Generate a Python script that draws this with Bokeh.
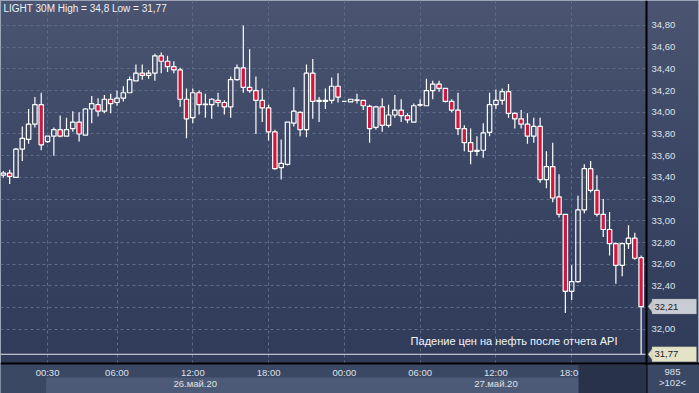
from bokeh.plotting import figure
from bokeh.models import (ColumnDataSource, LinearAxis, FixedTicker, Range1d, Label,
                          BoxAnnotation, PolyAnnotation, Grid)
from bokeh.embed import file_html
from bokeh.resources import INLINE

# ---------------- data (LIGHT 30M, 25-27 May 2020) ----------------
opens = [33.42, 33.44, 33.40, 33.66, 33.75, 33.89, 34.07, 33.73, 33.78, 33.84,
         33.78, 33.85, 33.91, 33.79, 34.03, 34.07, 34.01, 34.12, 34.09, 34.13,
         34.18, 34.29, 34.36, 34.34, 34.36, 34.52, 34.47, 34.42, 34.39, 34.12,
         33.95, 34.18, 34.07, 34.07, 34.11, 34.09, 34.05, 34.30, 34.41, 34.23,
         34.20, 34.11, 34.04, 33.82, 33.49, 33.52, 33.90, 34.00, 33.84, 34.36,
         34.10, 34.10, 34.11, 34.24, 34.10, 34.095, 34.11, 34.11, 34.055, 33.86,
         34.05, 33.88, 33.975, 34.02, 33.97, 33.91, 34.065, 34.06, 34.20, 34.26,
         34.22, 34.10, 34.02, 33.85, 33.72, 33.64, 33.65, 33.815, 34.07, 34.11,
         34.19, 33.99, 33.94, 33.89, 33.78, 33.87, 33.38, 33.50, 33.22, 33.06,
         32.35, 32.44, 33.10, 33.48, 33.28, 33.06, 32.92, 32.79, 32.59, 32.79,
         32.84, 32.66]
highs = [33.46, 33.47, 33.67, 33.87, 34.03, 34.14, 34.18, 33.78, 33.86, 33.97,
         33.95, 34.01, 34.00, 34.04, 34.15, 34.13, 34.16, 34.17, 34.20, 34.24,
         34.33, 34.44, 34.44, 34.39, 34.54, 34.55, 34.52, 34.47, 34.41, 34.22,
         34.22, 34.20, 34.17, 34.13, 34.18, 34.11, 34.33, 34.44, 34.80, 34.58,
         34.33, 34.22, 34.07, 33.84, 33.75, 33.91, 34.23, 34.01, 34.44, 34.49,
         34.14, 34.22, 34.32, 34.36, 34.10, 34.12, 34.17, 34.11, 34.07, 34.06,
         34.13, 34.07, 34.16, 34.12, 33.99, 34.08, 34.12, 34.31, 34.29, 34.29,
         34.22, 34.12, 34.18, 33.88, 33.85, 33.78, 33.90, 34.18, 34.21, 34.22,
         34.26, 34.00, 34.02, 33.99, 33.95, 33.95, 33.64, 33.72, 33.43, 33.06,
         32.59, 33.23, 33.52, 33.55, 33.42, 33.20, 33.08, 32.80, 32.80, 32.96,
         32.89, 32.68]
lows = [33.40, 33.34, 33.40, 33.55, 33.71, 33.86, 33.65, 33.72, 33.60, 33.77,
        33.78, 33.82, 33.73, 33.79, 33.90, 33.96, 33.99, 33.99, 34.06, 34.10,
        34.18, 34.29, 34.30, 34.31, 34.29, 34.36, 34.37, 34.36, 34.05, 33.76,
        33.90, 33.98, 33.95, 33.94, 34.05, 33.98, 33.95, 34.29, 34.18, 34.18,
        33.80, 33.91, 33.74, 33.47, 33.38, 33.51, 33.87, 33.78, 33.77, 33.94,
        33.91, 34.03, 34.08, 34.09, 34.10, 34.095, 34.08, 34.02, 33.72, 33.84,
        33.82, 33.86, 33.95, 33.91, 33.90, 33.91, 34.05, 34.06, 34.12, 34.19,
        34.09, 34.00, 33.79, 33.64, 33.52, 33.60, 33.58, 33.78, 34.03, 34.07,
        33.95, 33.85, 33.85, 33.71, 33.72, 33.35, 33.30, 33.17, 33.03, 32.15,
        32.27, 32.43, 33.07, 33.26, 33.04, 32.85, 32.68, 32.42, 32.49, 32.74,
        32.64, 31.77]
closes = [33.44, 33.41, 33.66, 33.76, 33.89, 34.07, 33.70, 33.78, 33.84, 33.78,
          33.84, 33.91, 33.80, 34.03, 34.08, 34.01, 34.12, 34.08, 34.13, 34.18,
          34.30, 34.36, 34.34, 34.36, 34.52, 34.47, 34.42, 34.39, 34.12, 33.94,
          34.18, 34.07, 34.075, 34.12, 34.09, 34.05, 34.30, 34.41, 34.23, 34.20,
          34.11, 34.04, 33.82, 33.48, 33.53, 33.91, 34.01, 33.84, 34.36, 34.10,
          34.11, 34.11, 34.24, 34.14, 34.10, 34.12, 34.115, 34.06, 33.85, 34.05,
          33.88, 33.975, 34.02, 33.97, 33.93, 34.06, 34.07, 34.20, 34.26, 34.22,
          34.10, 34.02, 33.85, 33.72, 33.64, 33.65, 33.81, 34.07, 34.11, 34.19,
          33.99, 33.94, 33.89, 33.78, 33.87, 33.38, 33.50, 33.21, 33.06, 32.35,
          32.44, 33.10, 33.48, 33.28, 33.06, 32.92, 32.79, 32.59, 32.79, 32.84,
          32.655, 32.21]

time_ticks = [7, 18, 30, 42, 54, 66, 78, 90]
time_labels = ["00:30", "06:00", "12:00", "18:00", "00:00", "06:00", "12:00", "18:00"]
date_ticks = [30.4, 78.0]
date_labels = ["26.май.20", "27.май.20"]
price_ticks = [32.0, 32.2, 32.4, 32.6, 32.8, 33.0, 33.2, 33.4, 33.6, 33.8,
               34.0, 34.2, 34.4, 34.6, 34.8]
price_labels = ["32,00", "32,20", "32,40", "32,60", "32,80", "33,00", "33,20", "33,40",
                "33,60", "33,80", "34,00", "34,20", "34,40", "34,60", "34,80"]
title_text = "LIGHT 30M High = 34,8 Low = 31,77"
note_text = "Падение цен на нефть после отчета API"
last_price, last_label = 32.21, "32,21"
low_price, low_label = 31.77, "31,77"
corner_top, corner_bottom = "985", ">102<"

# ---------------- layout ----------------
W, H = 699, 393
RIGHT_W, BOTTOM_H = 53, 30
PLOT_W, PLOT_H = W - RIGHT_W, H - BOTTOM_H
x_start, x_plot_end = -0.45, 101.85          # candle area (left of the black line)
y_plot_bottom, y_end = 31.685, 35.03         # candle area (above the black line)
px = PLOT_W / (x_plot_end - x_start)
py = PLOT_H / (y_end - y_plot_bottom)
x_end = x_plot_end + RIGHT_W / px
y_start = y_plot_bottom - BOTTOM_H / py

FONT = "Liberation Sans"
TXT = "#dde2ea"

p = figure(width=W, height=H, output_backend="svg", toolbar_location=None,
           x_range=Range1d(x_start, x_end), y_range=Range1d(y_start, y_end),
           x_axis_type=None, y_axis_type=None,
           min_border_left=0, min_border_top=0, min_border_right=0, min_border_bottom=0)
p.background_fill_alpha = 0
p.border_fill_alpha = 0
p.outline_line_color = None
p.styles = {"background": "linear-gradient(180deg, #4b5571 0%, #3b4765 40%, #2d3957 100%)",
            "outline": "1px solid #9aa5b8", "outline-offset": "-1px"}

# grids (only over the candle area)
p.add_layout(Grid(dimension=0, ticker=FixedTicker(ticks=time_ticks),
                  cross_bounds=(y_plot_bottom, y_end),
                  grid_line_color="#5f6c87", grid_line_dash="3 3", grid_line_width=1))
p.add_layout(Grid(dimension=1, ticker=FixedTicker(ticks=price_ticks),
                  cross_bounds=(x_start, x_plot_end),
                  grid_line_color="#5f6c87", grid_line_dash="3 3", grid_line_width=1))

# bottom panel backgrounds
p.add_layout(BoxAnnotation(left=x_start, right=x_end, top=y_plot_bottom, bottom=y_start,
                           fill_color="#3b4864", fill_alpha=1, line_color=None,
                           level="underlay"))
p.add_layout(BoxAnnotation(left=6.77, right=91.1, top=y_plot_bottom - 14 / py,
                           bottom=y_start, fill_color="#4d5a77", fill_alpha=1,
                           line_color=None, level="underlay"))

# axes drawn at fixed positions inside the canvas
yax = LinearAxis(ticker=FixedTicker(ticks=price_ticks), fixed_location=x_plot_end,
                 major_label_overrides=dict(zip(price_ticks, price_labels)))
p.add_layout(yax, "right")
tax = LinearAxis(ticker=FixedTicker(ticks=time_ticks), fixed_location=y_plot_bottom,
                 major_label_overrides=dict(zip(time_ticks, time_labels)))
p.add_layout(tax, "below")
dax = LinearAxis(ticker=FixedTicker(ticks=date_ticks), fixed_location=y_plot_bottom - 14 / py,
                 major_label_overrides=dict(zip(date_ticks, date_labels)))
p.add_layout(dax, "below")
for ax in (yax, tax, dax):
    ax.major_tick_line_color = None
    ax.minor_tick_line_color = None
    ax.major_tick_out = 0
    ax.major_tick_in = 0
    ax.minor_tick_out = 0
    ax.major_label_text_font = FONT
    ax.major_label_text_font_size = "9.5px"
    ax.major_label_text_color = TXT
yax.axis_line_color = "black"
yax.axis_line_width = 2
yax.major_label_standoff = 5
tax.axis_line_color = "black"
tax.axis_line_width = 2
tax.major_label_standoff = 3
dax.axis_line_color = None
dax.major_label_standoff = 0

# candles
idx = list(range(len(opens)))
tops = [max(o, c) for o, c in zip(opens, closes)]
bots = [min(o, c) for o, c in zip(opens, closes)]
alpha = [1.0 if c < o else 0.0 for o, c in zip(opens, closes)]
src = ColumnDataSource(dict(x=idx, high=highs, low=lows, top=tops, bot=bots, alpha=alpha))

# session low line
p.segment(x0=[x_start], y0=[low_price], x1=[x_plot_end], y1=[low_price],
          line_color="#e3e6ec", line_width=1)

p.segment(x0="x", y0="high", x1="x", y1="top", source=src, line_color="white", line_width=1.2)
p.segment(x0="x", y0="bot", x1="x", y1="low", source=src, line_color="white", line_width=1.2)
p.vbar(x="x", width=0.7, top="top", bottom="bot", source=src,
       fill_color="#d0173f", fill_alpha="alpha", line_color="white", line_width=1.2)

# texts
p.add_layout(Label(x=x_start + 3 / px, y=y_end - 2 / py, text=title_text, text_baseline="top",
                   text_align="left", text_color="#eef0f4", text_font=FONT,
                   text_font_size="10px"))
p.add_layout(Label(x=97.25, y=31.888, text=note_text, text_baseline="middle",
                   text_align="right", text_color="#f4f5f8", text_font=FONT,
                   text_font_size="11px"))

# dark region at the right end of the time axis
p.add_layout(BoxAnnotation(left=91.1, right=x_plot_end, top=y_plot_bottom - 1.5 / py,
                           bottom=y_start, fill_color="#283249", fill_alpha=1,
                           line_color=None, level="annotation"))

# price tags on the right axis
def tag(price, text, fill, edge):
    p.add_layout(PolyAnnotation(xs=[x_plot_end + 1.5 / px, x_plot_end + 6 / px, x_plot_end + 6 / px],
                                ys=[price, price + 6 / py, price - 6 / py],
                                fill_color=fill, fill_alpha=1, line_color=edge, line_width=1))
    p.add_layout(BoxAnnotation(left=x_plot_end + 5.5 / px, right=x_plot_end + 50 / px,
                               top=price + 7.5 / py, bottom=price - 7.5 / py,
                               fill_color=fill, fill_alpha=1, line_color=edge, line_width=1,
                               level="annotation"))
    p.add_layout(Label(x=x_plot_end + 8 / px, y=price, text=text, text_baseline="middle",
                       text_align="left", text_color="#1c1c1c", text_font=FONT,
                       text_font_size="9.5px"))

tag(last_price, last_label, "#c9ccd3", "#8a909c")
tag(low_price, low_label, "#e3e3c8", "#8a8a70")

p.add_layout(Label(x=x_plot_end + 26 / px, y=y_plot_bottom - 8 / py, text=corner_top,
                   text_baseline="middle", text_align="center", text_color=TXT,
                   text_font=FONT, text_font_size="9.5px"))
p.add_layout(Label(x=x_plot_end + 26 / px, y=y_plot_bottom - 19 / py, text=corner_bottom,
                   text_baseline="middle", text_align="center", text_color=TXT,
                   text_font=FONT, text_font_size="9.5px"))

open("out.html", "w").write(file_html(p, INLINE))
